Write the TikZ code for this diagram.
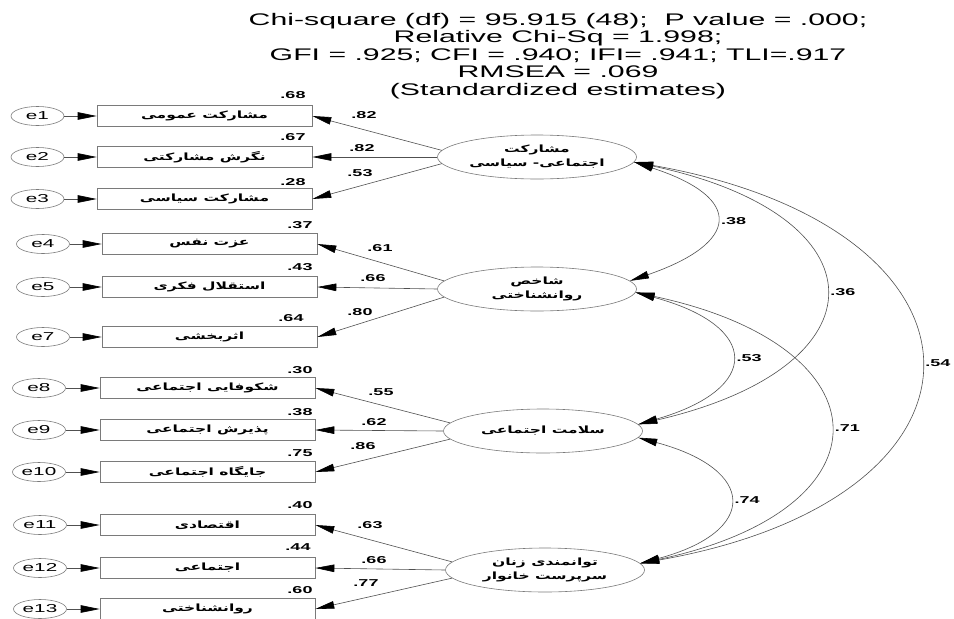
\documentclass[tikz,border=0pt]{standalone}
\usepackage{fontspec}
\setmainfont{Liberation Sans}
\newfontfamily\hdrfont[FakeStretch=1.8]{Liberation Sans}
\newfontfamily\farsi[Script=Arabic,FakeStretch=1.55]{DejaVu Sans}
\TeXXeTstate=1
\newcommand{\rl}[1]{\beginR #1\endR}
\usetikzlibrary{arrows.meta,positioning,shapes.geometric}
\definecolor{lineGray}{HTML}{505050}
\definecolor{boxGray}{HTML}{7A7A7A}

\begin{document}
\begin{tikzpicture}[
    x=1pt,y=1pt,
    >={Triangle[length=19pt,width=7.5pt,color=black]},
    hdr/.style={align=center,font=\hdrfont\fontsize{16.8}{17.5}\selectfont},
    obs/.style={draw=boxGray,line width=0.6pt,minimum width=215pt,minimum height=21pt,
                inner sep=0pt,font=\farsi\bfseries\fontsize{10}{11}\selectfont},
    err/.style={ellipse,draw=boxGray,line width=0.6pt,minimum width=53pt,minimum height=19pt,
                inner sep=0pt,font=\hdrfont\fontsize{11.5}{11.5}\selectfont},
    lat/.style={ellipse,draw=boxGray,line width=0.6pt,minimum width=199pt,minimum height=44pt,
                inner sep=0pt,align=center,font=\farsi\bfseries\fontsize{10}{14}\selectfont},
    arr/.style={->,lineGray,line width=0.6pt},
    cov/.style={<->,lineGray,line width=0.6pt,looseness=2.5},
    ld/.style={inner sep=1pt,text=black,font=\hdrfont\bfseries\fontsize{10}{10}\selectfont}
  ]
  \useasboundingbox (0,0) rectangle (954,-619);
  %% Fit statistics
  \node[hdr] (fitstats) at (558,-56)
        {Chi-square (df) = 95.915 (48);\ \ P value = .000;\\
         Relative Chi-Sq = 1.998;\\
         GFI = .925; CFI = .940; IFI= .941; TLI=.917\\
         RMSEA = .069\hspace*{48pt}\\
         (Standardized estimates)};
  %% Latent factors
  \node[lat] (partic) at (537,-157) {\rl{مشارکت}\\\rl{اجتماعی- سیاسی}};
  \node[lat] (psych)  at (537,-289) {\rl{شاخص}\\\rl{روانشناختی}};
  \node[lat] (health) at (543,-431) {\rl{سلامت اجتماعی}};
  \node[lat] (empow)  at (545,-570) {\rl{توانمندی زنان}\\\rl{سرپرست خانوار}};
  %% Indicators of participation
  \node[obs] (b1) at (204.5,-116) {\rl{مشارکت عمومی}};
  \node[obs] (b2) at (204.5,-157) {\rl{نگرش مشارکتی}};
  \node[obs] (b3) at (204.5,-199) {\rl{مشارکت سیاسی}};
  \node[err] (e1) at (37.5,-116) {e1};
  \node[err] (e2) at (37.5,-157) {e2};
  \node[err] (e3) at (37.5,-199) {e3};
  \draw[arr] (e1) -- (b1);
  \draw[arr] (e2) -- (b2);
  \draw[arr] (e3) -- (b3);
  \draw[arr] (partic.176) -- (b1.east);
  \draw[arr] (partic.west) -- (b2.east);
  \draw[arr] (partic.184) -- (b3.east);
  \node[ld] (r1) at (293,-95)  {.68};
  \node[ld] (r2) at (293,-137) {.67};
  \node[ld] (r3) at (293,-182) {.28};
  \node[ld] (w1) at (364,-115) {.82};
  \node[ld] (w2) at (362,-148) {.82};
  \node[ld] (w3) at (360,-173) {.53};
  %% Indicators of psychological index
  \node[obs] (b4) at (209.5,-244) {\rl{عزت نفس}};
  \node[obs] (b5) at (209.5,-287) {\rl{استقلال فکری}};
  \node[obs] (b6) at (209.5,-337) {\rl{اثربخشی}};
  \node[err] (e4) at (43,-244) {e4};
  \node[err] (e5) at (43,-287) {e5};
  \node[err] (e7) at (43,-337) {e7};
  \draw[arr] (e4) -- (b4);
  \draw[arr] (e5) -- (b5);
  \draw[arr] (e7) -- (b6);
  \draw[arr] (psych.175) -- (b4.east);
  \draw[arr] (psych.west) -- (b5.east);
  \draw[arr] (psych.185) -- (b6.east);
  \node[ld] (r4) at (300,-225) {.37};
  \node[ld] (r5) at (300,-267) {.43};
  \node[ld] (r7) at (291,-318) {.64};
  \node[ld] (w4) at (380,-248) {.61};
  \node[ld] (w5) at (373,-278) {.66};
  \node[ld] (w6) at (360,-312) {.80};
  %% Indicators of social health
  \node[obs] (b7) at (207.5,-388) {\rl{شکوفایی اجتماعی}};
  \node[obs] (b8) at (207.5,-430) {\rl{پذیرش اجتماعی}};
  \node[obs] (b9) at (207.5,-472) {\rl{جایگاه اجتماعی}};
  \node[err] (e8)  at (39,-388) {e8};
  \node[err] (e9)  at (39,-430) {e9};
  \node[err] (e10) at (39,-472) {e10};
  \draw[arr] (e8) -- (b7);
  \draw[arr] (e9) -- (b8);
  \draw[arr] (e10) -- (b9);
  \draw[arr] (health.175) -- (b7.east);
  \draw[arr] (health.west) -- (b8.east);
  \draw[arr] (health.185) -- (b9.east);
  \node[ld] (r8)  at (300,-370) {.30};
  \node[ld] (r9)  at (300,-412) {.38};
  \node[ld] (r10) at (300,-453) {.75};
  \node[ld] (w7) at (381,-392) {.55};
  \node[ld] (w8) at (374,-422) {.62};
  \node[ld] (w9) at (363,-446) {.86};
  %% Indicators of empowerment
  \node[obs] (b10) at (207.5,-525) {\rl{اقتصادی}};
  \node[obs] (b11) at (207.5,-568) {\rl{اجتماعی}};
  \node[obs] (b12) at (207.5,-609) {\rl{روانشناختی}};
  \node[err] (e11) at (40,-525) {e11};
  \node[err] (e12) at (40,-568) {e12};
  \node[err] (e13) at (40,-609) {e13};
  \draw[arr] (e11) -- (b10);
  \draw[arr] (e12) -- (b11);
  \draw[arr] (e13) -- (b12);
  \draw[arr] (empow.175) -- (b10.east);
  \draw[arr] (empow.west) -- (b11.east);
  \draw[arr] (empow.185) -- (b12.east);
  \node[ld] (r11) at (300,-505) {.40};
  \node[ld] (r12) at (298,-547) {.44};
  \node[ld] (r13) at (300,-590) {.60};
  \node[ld] (w10) at (370,-525) {.63};
  \node[ld] (w11) at (374,-560) {.66};
  \node[ld] (w12) at (366,-583) {.77};
  %% Correlations between factors
  \draw[cov] (partic.-3) to[out=-18,in=19] node[ld,right=5pt] (c38) {.38} (psych.5);
  \draw[cov] (partic.-3) to[out=-12,in=13] node[ld,right=5pt] (c36) {.36} (health.4);
  \draw[cov,looseness=2.43] (partic.-3) to[out=-10,in=10] node[ld,right=5pt] (c54) {.54} (empow.4);
  \draw[cov] (psych.-2) to[out=-15,in=16] node[ld,right=5pt] (c53) {.53} (health.4);
  \draw[cov,looseness=2.45] (psych.-2) to[out=-12,in=12] node[ld,right=5pt] (c71) {.71} (empow.4);
  \draw[cov] (health.-4) to[out=-15,in=15] node[ld,right=5pt] (c74) {.74} (empow.4);
\end{tikzpicture}
\end{document}
